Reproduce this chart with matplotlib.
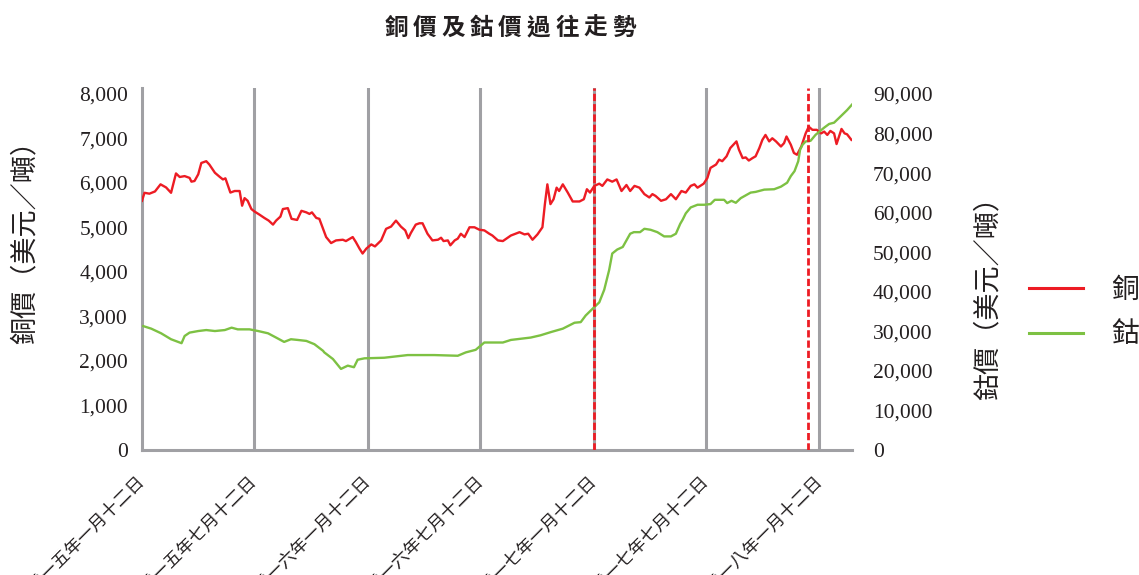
import numpy as np
import matplotlib.pyplot as plt

######### DADOS #########

start = np.datetime64('2015-01-12')

# 銅價 (美元/噸): dias desde 2015-01-12 e preço
cu_day = [0, 4, 12, 21, 30, 39, 47, 55, 61, 69, 77, 80, 85, 91, 96, 104, 109, 118, 126, 131,
          135, 143, 150, 158, 162, 166, 171, 177, 182, 190, 198, 205, 212, 217, 224, 228, 236,
          242, 251, 258, 266, 271, 275, 282, 287, 293, 298, 306, 314, 325, 330, 341, 346, 352,
          357, 363, 371, 377, 387, 395, 403, 411, 419, 426, 431, 435, 443, 449, 454, 462, 470,
          479, 484, 488, 495, 499, 506, 511, 516, 522, 530, 538, 546, 554, 562, 567, 576, 584,
          597, 611, 619, 625, 632, 640, 648, 652, 656, 661, 666, 671, 675, 681, 689, 697, 708,
          715, 720, 725, 732, 740, 745, 753, 761, 768, 776, 784, 790, 797, 805, 813, 821, 826,
          831, 840, 848, 856, 864, 873, 880, 888, 894, 899, 909, 915, 920, 929, 934, 939, 946,
          952, 957, 962, 966, 972, 977, 982, 988, 993, 999, 1004, 1009, 1015, 1020, 1026, 1034,
          1039, 1043, 1050, 1055, 1060, 1067, 1074, 1079, 1085, 1092, 1099, 1104, 1109, 1114,
          1120, 1124, 1128, 1132, 1137, 1141, 1148]
cu_price = [5600, 5780, 5760, 5810, 5970, 5900, 5780, 6215, 6135, 6155, 6115, 6030, 6045, 6195,
            6450, 6490, 6415, 6230, 6135, 6080, 6105, 5785, 5820, 5820, 5490, 5660, 5600, 5415,
            5360, 5290, 5215, 5155, 5065, 5155, 5245, 5415, 5435, 5195, 5170, 5375, 5340, 5305,
            5340, 5215, 5195, 4970, 4785, 4650, 4710, 4725, 4695, 4785, 4675, 4525, 4415, 4525,
            4620, 4575, 4710, 4970, 5020, 5155, 5020, 4935, 4760, 4875, 5065, 5095, 5095, 4860,
            4710, 4725, 4770, 4695, 4710, 4600, 4710, 4750, 4860, 4785, 5005, 5005, 4950, 4935,
            4860, 4820, 4710, 4695, 4820, 4895, 4845, 4860, 4725, 4845, 5005, 5525, 5970, 5525,
            5635, 5895, 5820, 5970, 5785, 5585, 5585, 5635, 5860, 5785, 5935, 5985, 5935, 6080,
            6030, 6080, 5820, 5955, 5820, 5935, 5895, 5750, 5675, 5750, 5710, 5600, 5635, 5750,
            5635, 5820, 5785, 5935, 5970, 5895, 5985, 6115, 6340, 6415, 6525, 6490, 6600, 6785,
            6860, 6935, 6750, 6560, 6575, 6505, 6560, 6600, 6785, 6970, 7080, 6935, 7005, 6935,
            6820, 6895, 7045, 6860, 6675, 6635, 6820, 7115, 7265, 7195, 7195, 7115, 7155, 7080,
            7170, 7115, 6875, 7045, 7215, 7115, 7095, 6970]

# 鈷價 (美元/噸)
co_day = [2, 15, 31, 47, 64, 69, 77, 91, 104, 118, 134, 145, 155, 174, 188, 204, 217, 230, 241,
          252, 266, 279, 293, 295, 309, 322, 333, 343, 349, 360, 392, 430, 473, 511, 524, 540,
          554, 584, 597, 629, 645, 662, 681, 700, 710, 718, 729, 740, 748, 756, 761, 769, 778,
          790, 796, 806, 813, 823, 834, 845, 856, 864, 871, 875, 880, 888, 899, 910, 920, 927,
          942, 947, 954, 961, 969, 985, 993, 1007, 1023, 1034, 1044, 1050, 1056, 1062, 1065,
          1069, 1074, 1082, 1090, 1104, 1112, 1120, 1130, 1141, 1149]
co_price = [31325, 30675, 29500, 28000, 27000, 28825, 29675, 30075, 30325, 30075, 30325, 30925,
            30500, 30500, 30075, 29500, 28425, 27325, 28000, 27825, 27575, 26750, 25075, 24675,
            23000, 20500, 21325, 20925, 22825, 23175, 23325, 24000, 24000, 23825, 24675, 25325,
            27175, 27175, 27825, 28425, 29000, 29825, 30675, 32175, 32325, 34000, 35675, 37325,
            40500, 45500, 49675, 50675, 51325, 54675, 55075, 55075, 55925, 55675, 55075, 54000,
            54000, 54675, 57175, 58250, 59825, 61325, 62000, 62000, 62175, 63250, 63250, 62425,
            63000, 62500, 63675, 65075, 65250, 65825, 65925, 66575, 67575, 69250, 70500, 73000,
            75925, 77175, 78000, 78175, 79675, 81500, 82425, 82750, 84250, 85925, 87325]

tick_dates = ['2015-01-12', '2015-07-12', '2016-01-12', '2016-07-12',
              '2017-01-12', '2017-07-12', '2018-01-12']
tick_labels = ['二零一五年一月十二日', '二零一五年七月十二日', '二零一六年一月十二日',
               '二零一六年七月十二日', '二零一七年一月十二日', '二零一七年七月十二日',
               '二零一八年一月十二日']
dash_dates = ['2017-01-12', '2017-12-25']

cu_ticks = list(range(0, 8001, 1000))
co_ticks = list(range(0, 90001, 10000))

title = '銅價及鈷價過往走勢'
cu_label = '銅價（美元／噸）'
co_label = '鈷價（美元／噸）'
series_names = ['銅', '鈷']

######### CORES E FONTES #########

red = '#ED1C24'
green = '#7DC143'
gray = '#A0A0A4'
txt = '#231F20'
cjk = 'Noto Sans CJK TC'
num = 'Liberation Serif'

######### FIGURA #########

W, H = 1139, 575
fig = plt.figure(figsize=(W / 100, H / 100), dpi=100)
ax = fig.add_axes([142 / W, 125 / H, 710 / W, 362 / H])
ax2 = ax.twinx()

cu_x = start + np.array(cu_day).astype('timedelta64[D]')
co_x = start + np.array(co_day).astype('timedelta64[D]')

# linhas verticais cinzas nas datas dos ticks (a primeira é o próprio eixo)
for d in tick_dates[1:]:
    ax.axvline(np.datetime64(d), color=gray, lw=2.2, zorder=1)

l1, = ax.plot(cu_x, cu_price, color=red, lw=1.7, zorder=3)
l2, = ax2.plot(co_x, co_price, color=green, lw=1.7, zorder=3)

for d in dash_dates:
    ax2.axvline(np.datetime64(d), color=red, lw=2.0, dashes=(2.6, 1.1), zorder=4)

ax.set_xlim(start, start + np.timedelta64(1149, 'D'))
ax.set_ylim(0, 8000 * 362 / 356)
ax2.set_ylim(0, 90000 * 362 / 356)

for s in ['top', 'right']:
    ax.spines[s].set_visible(False)
for s in ['left', 'bottom']:
    ax.spines[s].set_color(gray)
    ax.spines[s].set_linewidth(2.2)
for s in ax2.spines.values():
    s.set_visible(False)

ax.set_yticks(cu_ticks)
ax.set_yticklabels([f'{v:,}' for v in cu_ticks], family=num, fontsize=15.5, color=txt)
ax2.set_yticks(co_ticks)
ax2.set_yticklabels([f'{v:,}' for v in co_ticks], family=num, fontsize=15.5, color=txt)
ax.tick_params(axis='y', length=0, pad=10)
ax2.tick_params(axis='y', length=0, pad=15)

ax.set_xticks([np.datetime64(d) for d in tick_dates])
ax.set_xticklabels(tick_labels, rotation=45, ha='right', va='center',
                   rotation_mode='anchor', family=cjk, fontsize=12.5, color=txt)
ax.tick_params(axis='x', length=0, pad=21)

# rótulos dos eixos
fig.text(25 / W, 1 - 236 / H, cu_label, rotation=90, ha='center', va='center',
         family=cjk, fontsize=19.5, color=txt)
fig.text(988 / W, 1 - 292 / H, co_label, rotation=90, ha='center', va='center',
         family=cjk, fontsize=19.5, color=txt)

# título com espaçamento entre letras
for i, ch in enumerate(title):
    fig.text((510 + (i - 4) * 28.5) / W, 1 - 28 / H, ch, ha='center', va='center',
             family=cjk, fontsize=17, fontweight='bold', color=txt)

fig.legend([l1, l2], series_names, loc='center left', bbox_to_anchor=(1029 / W, 1 - 312 / H),
           frameon=False, borderpad=0, borderaxespad=0, handlelength=1.95, handletextpad=1.0,
           labelspacing=0.52, prop={'family': cjk, 'size': 20})
for t in fig.legends[0].get_texts():
    t.set_color(txt)
for h in fig.legends[0].legend_handles:
    h.set_linewidth(2.2)

fig.savefig('out.png', dpi=100)
